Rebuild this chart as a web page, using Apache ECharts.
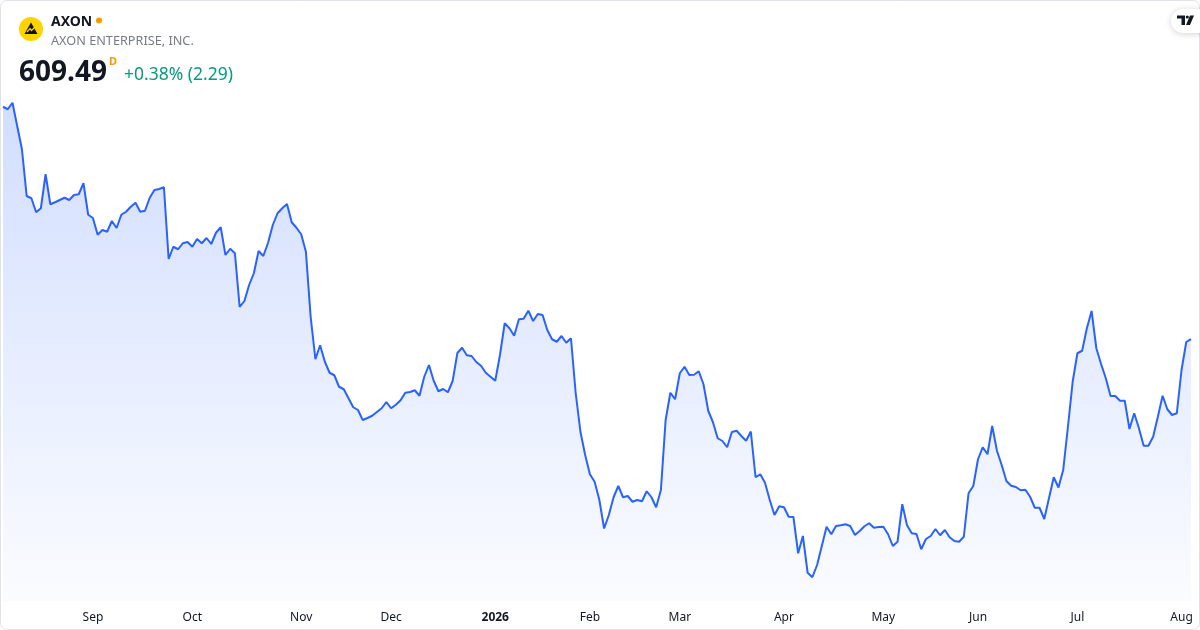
<!DOCTYPE html>
<html>
<head>
<meta charset="utf-8">
<script src="https://cdn.jsdelivr.net/npm/echarts@6/dist/echarts.min.js"></script>
<style>
html,body{margin:0;padding:0;background:#fff;}
#chart{width:1200px;height:630px;}
</style>
</head>
<body>
<div id="chart"></div>
<script>
// ---- data ----
const startDate = '2025-08-05';
const endDate = '2026-08-05';
const holidays = ['2025-09-01','2025-11-27','2025-12-25','2026-01-01','2026-01-19',
  '2026-02-16','2026-04-03','2026-05-25','2026-06-19','2026-07-03'];
const tickMonths = ['2025-09','2025-10','2025-11','2025-12','2026-01','2026-02',
  '2026-03','2026-04','2026-05','2026-06','2026-07','2026-08'];
const tickLabels = ['Sep','Oct','Nov','Dec','2026','Feb','Mar','Apr','May','Jun','Jul','Aug'];
const prices = [
795.4, 793.4, 798.6, 780.0, 761.4, 724.0, 722.2, 711.0, 714.2, 741.4,
717.4, 719.0, 720.8, 722.6, 720.8, 724.8, 725.4, 734.2, 709.0, 706.4,
693.0, 696.8, 695.4, 704.0, 698.4, 709.0, 711.4, 715.4, 718.6, 711.4,
712.2, 722.6, 728.8, 729.6, 731.0, 673.6, 683.4, 681.4, 686.2, 687.2,
683.4, 689.6, 686.2, 690.4, 685.6, 694.6, 699.0, 676.8, 681.8, 678.2,
635.2, 640.0, 652.8, 662.2, 680.0, 676.0, 686.6, 700.8, 710.2, 714.2,
717.6, 703.0, 698.6, 693.4, 679.4, 627.4, 593.4, 604.6, 591.4, 582.6,
580.6, 571.4, 569.4, 562.2, 555.0, 552.8, 544.8, 546.4, 548.2, 551.2,
554.2, 559.2, 554.2, 557.0, 560.6, 566.6, 567.2, 568.6, 564.2, 579.4,
588.8, 576.2, 567.8, 569.6, 567.0, 576.0, 598.4, 602.6, 596.6, 596.0,
591.2, 588.2, 582.6, 579.4, 576.2, 596.8, 622.2, 618.2, 612.2, 625.4,
625.8, 632.2, 624.0, 629.6, 628.8, 616.8, 609.4, 607.4, 612.0, 606.6,
610.2, 566.2, 535.4, 516.8, 501.4, 495.4, 480.8, 458.0, 468.8, 483.0,
492.0, 483.0, 484.0, 479.4, 480.8, 479.8, 487.8, 483.0, 475.0, 488.8,
544.8, 566.6, 561.4, 582.2, 587.4, 580.8, 581.0, 583.8, 573.4, 552.2,
543.0, 530.2, 528.0, 523.0, 535.2, 536.2, 532.0, 528.2, 535.6, 499.0,
501.4, 494.6, 480.8, 468.8, 475.8, 475.0, 467.4, 467.2, 438.2, 452.0,
422.6, 419.0, 428.8, 444.0, 459.4, 453.4, 460.0, 460.6, 461.4, 460.0,
452.8, 456.0, 459.8, 462.2, 458.6, 459.2, 459.4, 453.4, 444.0, 447.4,
477.4, 460.6, 454.2, 453.6, 441.4, 449.6, 452.0, 457.6, 452.6, 456.8,
451.0, 448.0, 447.4, 451.4, 486.2, 492.0, 513.4, 523.0, 517.4, 540.0,
520.2, 508.8, 496.0, 492.2, 491.2, 488.6, 489.0, 483.4, 474.6, 474.6,
465.6, 482.4, 499.0, 490.8, 504.8, 539.4, 575.4, 598.2, 600.2, 618.2,
632.0, 602.2, 589.6, 578.2, 564.0, 564.0, 560.2, 560.2, 537.6, 550.2,
538.2, 524.2, 524.2, 531.4, 547.4, 564.2, 553.4, 548.8, 550.2, 584.8,
607.2, 609.49
];

// ---- trading-day categories ----
function pad(n){return n < 10 ? '0' + n : '' + n;}
const dates = [];
(function(){
  let d = new Date(startDate + 'T00:00:00Z');
  const end = new Date(endDate + 'T00:00:00Z');
  while (d <= end) {
    const wd = d.getUTCDay();
    const s = d.getUTCFullYear() + '-' + pad(d.getUTCMonth() + 1) + '-' + pad(d.getUTCDate());
    if (wd !== 0 && wd !== 6 && holidays.indexOf(s) < 0) dates.push(s);
    d = new Date(d.getTime() + 86400000);
  }
})();

function isMonthStart(i){
  if (i <= 0) return false;
  return dates[i].slice(0,7) !== dates[i-1].slice(0,7);
}

const FONT = '"Noto Sans", "Open Sans", sans-serif';
const chart = echarts.init(document.getElementById('chart'));
chart.setOption({
  animation: false,
  backgroundColor: '#ffffff',
  grid: {left: 3, right: 9, top: 0, bottom: 29, containLabel: false},
  xAxis: {
    type: 'category',
    data: dates,
    boundaryGap: false,
    axisLine: {show: false},
    axisTick: {show: false},
    splitLine: {show: false},
    axisLabel: {
      interval: 0,
      margin: 11,
      hideOverlap: false,
      showMinLabel: true,
      showMaxLabel: true,
      formatter: function(v, idx){
        const i = dates.indexOf(v);
        if (!isMonthStart(i)) return '';
        const k = tickMonths.indexOf(v.slice(0,7));
        if (k < 0) return '';
        const t = tickLabels[k];
        return /^\d+$/.test(t) ? '{b|' + t + '}' : '{n|' + t + '}';
      },
      rich: {
        n: {fontFamily: FONT, fontSize: 12, color: '#131722'},
        b: {fontFamily: FONT, fontSize: 12, fontWeight: 'bold', color: '#131722'}
      }
    }
  },
  yAxis: {type: 'value', show: false, min: 400, max: 880.8, splitLine: {show: false}},
  series: [{
    type: 'line',
    data: prices,
    symbol: 'none',
    lineStyle: {color: '#2962ff', width: 2},
    areaStyle: {
      color: new echarts.graphic.LinearGradient(0, 0, 0, 1, [
        {offset: 0, color: 'rgba(41,98,255,0.30)'},
        {offset: 1, color: 'rgba(41,98,255,0.03)'}
      ])
    }
  }],
  graphic: [
    {type: 'rect', silent: true, shape: {x: 0.5, y: 0.5, width: 1199, height: 629, r: 6},
     style: {fill: 'none', stroke: '#e0e3eb', lineWidth: 1}, z: 100},
    {type: 'circle', shape: {cx: 31, cy: 29, r: 12}, style: {fill: '#ffd200'}, z: 100},
    {type: 'polygon', shape: {points: [[24.5,34],[31,22.5],[37.5,34]]}, style: {fill: '#111'}, z: 101},
    {type: 'polyline', shape: {points: [[27,32],[30,28.5],[31.5,30.5],[35,27]]}, style: {stroke: '#ffd200', lineWidth: 1.3, fill: 'none'}, z: 102},
    {type: 'text', style: {text: 'AXON', x: 51, y: 22, font: 'bold 14px ' + FONT, fill: '#131722', verticalAlign: 'middle'}, z: 100},
    {type: 'circle', shape: {cx: 99, cy: 20.5, r: 3}, style: {fill: '#ff9800'}, z: 100},
    {type: 'text', style: {text: 'AXON ENTERPRISE, INC.', x: 51, y: 41, font: '12.7px ' + FONT, fill: '#787b86', verticalAlign: 'middle'}, z: 100},
    {type: 'text', style: {text: '609.49', x: 19, y: 73, font: 'bold 28px ' + FONT, fill: '#131722', verticalAlign: 'middle'}, z: 100},
    {type: 'text', style: {text: 'D', x: 109, y: 62, font: 'bold 11px ' + FONT, fill: '#ff9800', verticalAlign: 'middle'}, z: 100},
    {type: 'text', style: {text: '+0.38% (2.29)', x: 124, y: 75, font: '17.5px ' + FONT, fill: '#089981', verticalAlign: 'middle'}, z: 100},
    {type: 'rect', shape: {x: 1171, y: 9, width: 44, height: 24, r: 12},
     style: {fill: '#fff', shadowBlur: 6, shadowColor: 'rgba(0,0,0,0.18)', shadowOffsetY: 1}, z: 100},
    {type: 'polygon', shape: {points: [[1177,15.5],[1185,15.5],[1185,25],[1181.5,25],[1181.5,18.5],[1177,18.5]]}, style: {fill: '#131722'}, z: 101},
    {type: 'circle', shape: {cx: 1187.3, cy: 17, r: 1.6}, style: {fill: '#131722'}, z: 101},
    {type: 'polygon', shape: {points: [[1190,15.5],[1194,15.5],[1190,25],[1186,25]]}, style: {fill: '#131722'}, z: 101}
  ]
});
</script>
</body>
</html>
